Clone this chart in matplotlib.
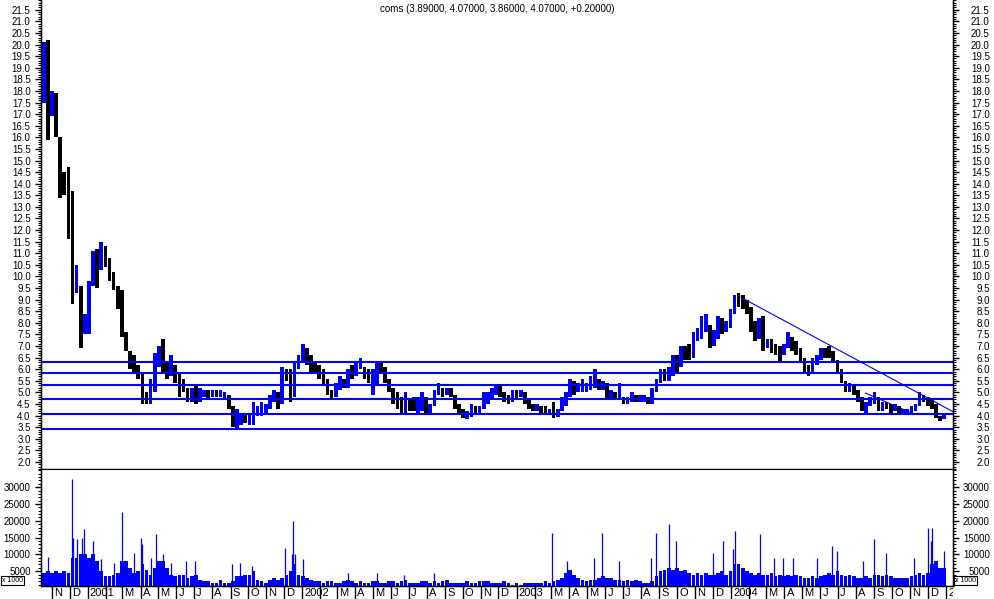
import matplotlib
matplotlib.use("Agg")
import matplotlib.pyplot as plt
import matplotlib.dates as mdates
from matplotlib.ticker import MultipleLocator, FixedLocator
from matplotlib.transforms import Bbox, TransformedBbox, blended_transform_factory
import pandas as pd

plt.rcParams['font.family'] = ['Liberation Sans', 'DejaVu Sans']

# weekly bars (week starting Monday 2000-10-16)
first_week = '2000-10-16'
high = [20.1, 20.2, 18.0, 17.9, 16.0, 14.5, 14.7, 13.7, 10.5, 9.6,
        8.4, 9.8, 11.1, 11.2, 11.5, 11.3, 10.8, 10.2, 9.6, 9.4,
        7.6, 6.8, 6.6, 6.2, 5.9, 5.0, 5.6, 6.7, 7.0, 7.3,
        6.3, 6.6, 6.2, 5.8, 5.6, 5.2, 5.2, 5.3, 5.2, 5.1,
        5.1, 5.1, 5.1, 5.1, 5.0, 4.9, 4.4, 4.3, 4.1, 4.1,
        4.1, 4.6, 4.4, 4.6, 4.5, 4.9, 5.1, 5.0, 6.1, 6.0,
        6.0, 6.3, 6.6, 7.1, 6.9, 6.6, 6.3, 6.2, 6.0, 5.6,
        5.1, 5.4, 5.7, 5.6, 6.0, 6.2, 6.3, 6.5, 6.1, 6.0,
        6.0, 6.3, 6.3, 6.1, 5.6, 5.2, 5.0, 4.8, 5.0, 4.7,
        4.8, 4.8, 5.0, 4.8, 4.5, 5.1, 5.4, 5.2, 5.2, 5.2,
        4.9, 4.5, 4.3, 4.2, 4.5, 4.4, 4.4, 5.0, 5.0, 5.2,
        5.3, 5.3, 5.0, 4.9, 5.1, 5.1, 5.1, 5.0, 4.7, 4.5,
        4.5, 4.4, 4.4, 4.3, 4.6, 4.3, 4.8, 5.0, 5.6, 5.5,
        5.4, 5.6, 5.4, 5.7, 6.0, 5.6, 5.5, 5.4, 5.1, 5.0,
        5.4, 4.8, 4.8, 5.0, 4.9, 4.9, 4.9, 4.8, 5.2, 5.6,
        6.0, 6.0, 6.1, 6.6, 6.6, 7.0, 7.0, 7.1, 7.6, 7.8,
        8.3, 8.4, 7.9, 7.7, 8.3, 8.2, 8.1, 8.6, 9.2, 9.3,
        9.2, 9.0, 8.7, 8.1, 8.2, 8.3, 7.3, 7.3, 7.1, 7.0,
        7.1, 7.6, 7.4, 7.2, 6.9, 6.5, 6.2, 6.5, 6.6, 6.9,
        6.9, 7.0, 6.8, 6.4, 6.0, 5.5, 5.4, 5.3, 5.1, 4.8,
        4.6, 4.8, 5.0, 4.8, 4.6, 4.6, 4.5, 4.5, 4.4, 4.3,
        4.3, 4.4, 4.5, 5.0, 4.9, 4.8, 4.7, 4.5, 4.0, 4.1]
low = [17.5, 15.9, 16.9, 16.0, 13.4, 13.5, 11.6, 8.8, 9.3, 6.9,
       7.5, 7.5, 9.6, 9.5, 10.3, 10.4, 9.8, 9.4, 8.6, 7.4,
       6.8, 6.0, 5.8, 5.6, 4.5, 4.5, 4.5, 5.0, 6.1, 5.8,
       5.6, 5.7, 5.4, 4.8, 5.0, 4.6, 4.6, 4.5, 4.6, 4.8,
       4.7, 4.8, 4.8, 4.8, 4.7, 4.3, 3.5, 3.4, 3.6, 3.7,
       3.6, 3.6, 4.0, 4.0, 4.1, 4.3, 4.6, 4.3, 4.5, 5.5,
       4.6, 4.8, 6.0, 6.3, 6.2, 5.9, 5.8, 5.6, 5.3, 4.9,
       4.7, 4.8, 5.1, 5.2, 5.2, 5.6, 5.7, 6.0, 5.6, 5.4,
       4.9, 5.3, 5.8, 5.4, 5.0, 4.5, 4.3, 4.1, 4.1, 4.2,
       4.2, 4.1, 4.2, 4.1, 4.1, 4.4, 4.9, 4.8, 4.9, 4.8,
       4.3, 4.1, 3.9, 3.85, 3.95, 4.1, 4.1, 4.3, 4.5, 4.7,
       4.9, 4.8, 4.6, 4.5, 4.6, 4.7, 4.8, 4.5, 4.3, 4.2,
       4.2, 4.1, 4.1, 4.1, 3.9, 3.95, 4.2, 4.4, 4.8, 4.9,
       5.0, 5.0, 5.0, 5.1, 5.2, 5.1, 5.1, 4.7, 4.7, 4.7,
       4.7, 4.5, 4.5, 4.6, 4.6, 4.6, 4.6, 4.5, 4.5, 5.0,
       5.4, 5.5, 5.5, 5.7, 5.9, 6.1, 6.4, 6.4, 6.5, 7.2,
       7.3, 7.6, 6.9, 7.0, 7.3, 7.5, 7.6, 7.8, 8.4, 8.7,
       8.6, 8.4, 7.6, 7.2, 7.3, 6.8, 6.9, 6.7, 6.6, 6.3,
       6.6, 6.9, 6.8, 6.6, 6.3, 5.9, 5.7, 5.9, 6.2, 6.4,
       6.5, 6.5, 6.3, 5.9, 5.4, 5.0, 5.0, 4.9, 4.6, 4.2,
       4.1, 4.4, 4.5, 4.2, 4.2, 4.3, 4.1, 4.2, 4.1, 4.1,
       4.1, 4.1, 4.2, 4.4, 4.6, 4.4, 4.3, 3.9, 3.75, 3.86]
close = [19.6, 17.3, 17.6, 16.3, 14.2, 14.1, 12.3, 9.3, 9.8, 8.0,
         8.2, 9.4, 10.5, 10.1, 11.0, 10.6, 10.0, 9.6, 8.9, 7.6,
         7.0, 6.3, 6.1, 5.8, 4.8, 4.7, 5.3, 6.5, 6.8, 6.1,
         5.9, 6.4, 5.8, 5.6, 5.2, 4.8, 4.9, 4.7, 5.0, 5.0,
         4.9, 5.0, 4.9, 4.9, 4.9, 4.4, 3.6, 3.6, 3.9, 3.8,
         3.8, 4.2, 4.2, 4.3, 4.3, 4.7, 4.9, 4.6, 5.9, 5.8,
         5.0, 6.2, 6.4, 6.7, 6.5, 6.1, 6.0, 5.9, 5.5, 5.1,
         4.9, 5.2, 5.5, 5.3, 5.9, 5.8, 6.1, 6.3, 5.8, 5.6,
         5.6, 6.1, 6.0, 5.5, 5.2, 4.8, 4.5, 4.3, 4.6, 4.5,
         4.4, 4.5, 4.7, 4.2, 4.2, 5.0, 5.2, 5.0, 5.1, 4.9,
         4.4, 4.2, 4.0, 4.0, 4.3, 4.2, 4.3, 4.8, 4.9, 5.0,
         5.2, 5.0, 4.8, 4.7, 5.0, 4.9, 5.0, 4.6, 4.4, 4.3,
         4.4, 4.3, 4.2, 4.2, 4.0, 4.2, 4.6, 4.9, 5.3, 5.2,
         5.2, 5.3, 5.3, 5.5, 5.5, 5.2, 5.2, 4.9, 4.9, 4.8,
         4.8, 4.6, 4.7, 4.9, 4.7, 4.8, 4.8, 4.6, 5.1, 5.5,
         5.8, 5.7, 5.9, 6.4, 6.1, 6.8, 6.7, 6.6, 7.5, 7.6,
         7.9, 8.1, 7.2, 7.4, 8.0, 7.8, 7.9, 8.5, 9.0, 8.9,
         8.8, 8.6, 7.8, 7.6, 7.9, 7.0, 7.1, 7.0, 6.8, 6.6,
         6.9, 7.3, 7.0, 6.8, 6.4, 6.1, 5.9, 6.3, 6.5, 6.8,
         6.7, 6.6, 6.4, 6.0, 5.5, 5.2, 5.2, 5.1, 4.8, 4.4,
         4.5, 4.6, 4.7, 4.3, 4.5, 4.4, 4.2, 4.4, 4.2, 4.2,
         4.2, 4.3, 4.4, 4.9, 4.7, 4.5, 4.4, 4.0, 3.85, 4.07]
# typical daily volume of each week, in thousands
volume = [4.5, 5, 4.5, 5, 4.5, 5, 4.5, 9, 9, 10,
          10, 9, 10, 8, 5, 3.5, 3.5, 4, 4.5, 8,
          8, 6, 4.5, 5, 7, 5.5, 4, 6, 8, 8,
          6, 4, 3.5, 4, 4, 3, 3.5, 4, 2.5, 2,
          2, 1.5, 1.5, 2.5, 1.5, 1.5, 2, 3.5, 3.5, 4,
          4, 5, 2.5, 2, 1.5, 2.5, 3, 2.5, 3, 4,
          5, 7, 4, 3.5, 3, 2.5, 2, 2, 1.5, 2,
          2, 1.5, 1.5, 2, 2.5, 2, 1.5, 2, 1.5, 1.5,
          2, 2, 1.5, 1.5, 2, 2, 1.5, 2, 2.5, 1.5,
          1.5, 1.5, 2, 2, 1.5, 2, 1.5, 2, 2.5, 1.5,
          1.5, 1.5, 1.5, 2, 1.5, 1.5, 2, 2, 2, 1.5,
          1.5, 1.5, 2, 1.5, 1, 1.5, 1, 1.5, 1.5, 1.5,
          1.5, 1.5, 2, 1.5, 2, 2.5, 3, 4.5, 5.5, 4,
          3, 2.5, 2, 2.5, 2.5, 3, 3.5, 3, 3, 2.5,
          2.5, 2, 2.5, 2, 2.5, 2, 1.5, 1.5, 2, 3.5,
          5, 5.5, 6, 5.5, 6, 5, 5.5, 4.5, 4, 4.5,
          4, 4.5, 4, 4, 4.5, 5, 4, 5, 7, 7,
          6, 5, 4.5, 4, 4.5, 4, 4, 4.5, 3.5, 4,
          3.5, 4, 3.5, 4, 3.5, 3, 3, 3.5, 3, 3.5,
          4, 4.5, 4, 5, 4, 3.5, 4, 3.5, 3, 3,
          3.5, 3, 4, 4, 3.5, 4, 3.5, 3, 3, 3,
          3, 3.5, 4, 4.5, 4, 4.5, 7, 8, 6, 6]
# single heavy days, in thousands
spike_dates = ['2000-10-26', '2000-12-05', '2000-12-07', '2000-12-13', '2000-12-22',
               '2000-12-26', '2001-01-10', '2001-01-24', '2001-02-14', '2001-02-28',
               '2001-03-20', '2001-04-02', '2001-04-04', '2001-04-18', '2001-04-27',
               '2001-05-09', '2001-05-22', '2001-06-18', '2001-07-02', '2001-09-04',
               '2001-09-17', '2001-10-08', '2001-12-03', '2001-12-14', '2001-12-17',
               '2001-12-20', '2002-01-02', '2002-03-20', '2002-05-08', '2002-06-24',
               '2002-08-14', '2003-03-03', '2003-03-27', '2003-05-12', '2003-05-27',
               '2003-06-25', '2003-08-18', '2003-08-27', '2003-09-18', '2003-09-30',
               '2003-12-02', '2003-12-19', '2004-01-05', '2004-01-08', '2004-02-20',
               '2004-03-15', '2004-03-29', '2004-04-15', '2004-05-26', '2004-06-21',
               '2004-06-29', '2004-08-12', '2004-09-01', '2004-09-21', '2004-11-08',
               '2004-12-02', '2004-12-06', '2004-12-09', '2004-12-28']
spike_vol = [9.2, 32.5, 15, 14.5, 15,
             17.5, 14, 8.5, 7.5, 22.5,
             10.5, 15, 13, 9, 16,
             10, 7.5, 8, 8, 7,
             7.5, 6.5, 12, 10, 20,
             10, 8.5, 4.5, 4.5, 4,
             4.5, 16.5, 8, 9, 16.5,
             8, 9, 16.5, 19, 14,
             10.5, 14, 11.5, 17, 16,
             9, 9, 9, 9, 12.5,
             11, 8, 14.5, 10.5, 9,
             18, 14, 18, 11]

levels = [6.30, 5.83, 5.31, 4.72, 4.07, 3.41]
trend_dates = ['2004-01-18', '2005-01-13']
trend_prices = [9.10, 4.17]
trend2_dates = ['2004-08-17', '2004-11-05']
trend2_prices = [4.97, 4.10]
title = 'coms (3.89000, 4.07000, 3.86000, 4.07000, +0.20000)'

BLUE = '#0000ff'
W, H = 994, 599
fig = plt.figure(figsize=(W / 100, H / 100), dpi=100)
ax = fig.add_axes([41 / W, 1 - 469 / H, 912 / W, 469 / H])
axv = fig.add_axes([41 / W, 1 - 586 / H, 912 / W, 117 / H], sharex=ax)

weeks = pd.date_range(first_week, periods=len(high), freq='7D') + pd.Timedelta(days=2)
x = mdates.date2num(weeks)
colors = []
prev = None
for c in close:
    colors.append(BLUE if prev is None or c >= prev else 'black')
    prev = c
ax.bar(x, [h - l for h, l in zip(high, low)], bottom=low, width=6.2,
       color=colors, linewidth=0)

for lv in levels:
    ax.axhline(lv, color=BLUE, lw=1.5)
ax.plot(mdates.date2num(pd.to_datetime(trend_dates)), trend_prices, color=BLUE, lw=0.8)
ax.plot(mdates.date2num(pd.to_datetime(trend2_dates)), trend2_prices, color=BLUE, lw=0.8)

# volume
axv.bar(x, [v * 1000 for v in volume], width=6.2, color=BLUE, linewidth=0)
axv.vlines(mdates.date2num(pd.to_datetime(spike_dates)), 0,
           [v * 1000 for v in spike_vol], color=BLUE, lw=0.9)

x0 = mdates.date2num(pd.Timestamp('2000-10-13 08:00'))
x1 = mdates.date2num(pd.Timestamp('2005-01-12 22:00'))
ax.set_xlim(x0, x1)
ax.set_ylim(1.70, 21.92)
axv.set_ylim(600, 35400)

for a in (ax, axv):
    a.spines['top'].set_visible(False)
    for s in ('left', 'right', 'bottom'):
        a.spines[s].set_linewidth(1.0)
    a.tick_params(axis='x', which='both', bottom=False, labelbottom=False)

ax2 = ax.twinx()
axv2 = axv.twinx()
ax2.set_ylim(ax.get_ylim())
axv2.set_ylim(axv.get_ylim())
ax2.spines['top'].set_visible(False)
axv2.spines['top'].set_visible(False)

price_ticks = [2.0 + 0.5 * k for k in range(40)]
vol_ticks = [5000, 10000, 15000, 20000, 25000, 30000]
for a in (ax, ax2):
    a.yaxis.set_major_locator(FixedLocator(price_ticks))
    a.yaxis.set_minor_locator(MultipleLocator(0.1))
    a.set_yticklabels(['%.1f' % t for t in price_ticks])
for a in (axv, axv2):
    a.yaxis.set_major_locator(FixedLocator(vol_ticks))
    a.yaxis.set_minor_locator(MultipleLocator(1000))
    a.set_yticklabels([str(t) for t in vol_ticks])

for a in (ax, axv):
    a.tick_params(axis='y', which='major', direction='out', length=4.5, width=1,
                  labelsize=7, pad=3)
    a.tick_params(axis='y', which='minor', direction='out', length=2, width=0.8)
for a in (ax2, axv2):
    a.tick_params(axis='y', which='major', direction='out', length=4.5, width=1,
                  labelsize=7, pad=22)
    a.tick_params(axis='y', which='minor', direction='out', length=2, width=0.8)
    for t in a.get_yticklabels():
        t.set_horizontalalignment('right')

# "x 1000" boxes
for xa in (-39 / 912, 1.0 + 2 / 912):
    axv.text(xa, 0.045, 'x 1000', transform=axv.transAxes, fontsize=5, ha='left',
             va='center', bbox=dict(boxstyle='square,pad=0.12', fc='white',
                                    ec='black', lw=0.8))

# month ticks and labels under the volume panel
trans = blended_transform_factory(axv.transData, axv.transAxes)
clip = TransformedBbox(Bbox([[0, -0.2], [1, 0]]), axv.transAxes)
for d in pd.date_range('2000-11-01', '2005-01-01', freq='MS'):
    xd = mdates.date2num(d)
    axv.plot([xd, xd], [0, -13 / 117], transform=trans, color='black', lw=1,
             clip_on=False)
    if d.month == 2:
        continue
    lab = str(d.year) if d.month == 1 else d.strftime('%b')[0]
    t = axv.text(xd + 3.5, -6.5 / 117, lab, transform=trans, fontsize=8,
                 ha='left', va='center')
    t.set_clip_box(clip)
    t.set_clip_on(True)

fig.text(497 / W, 1 - 9 / H, title, ha='center', va='center', fontsize=7)

fig.savefig('out.png', dpi=100)
